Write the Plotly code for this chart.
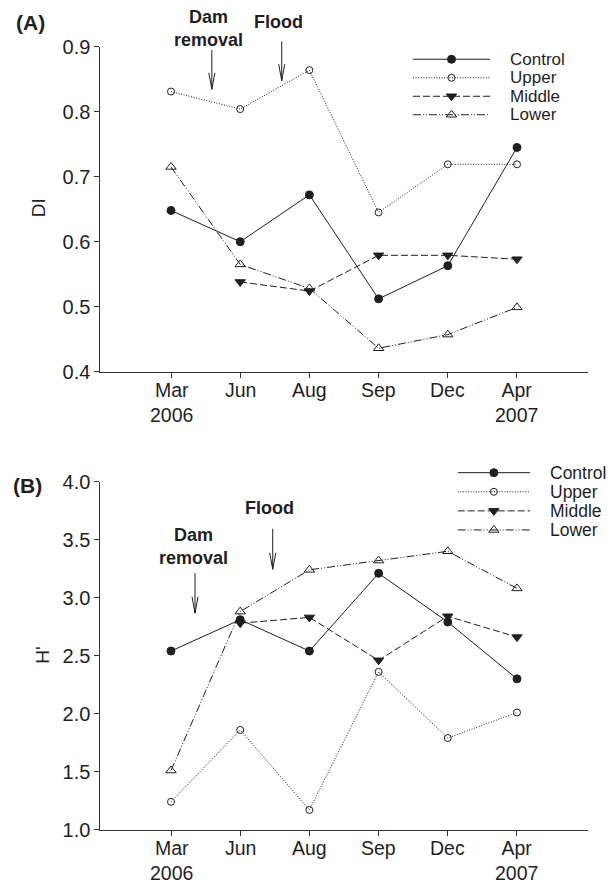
import plotly.graph_objects as go

# ---------------- data ----------------
months = ["Mar<br>2006", "Jun", "Aug", "Sep", "Dec", "Apr<br>2007"]
series = ["Control", "Upper", "Middle", "Lower"]

di_control = [0.648, 0.600, 0.672, 0.512, 0.563, 0.745]
di_upper = [0.831, 0.804, 0.864, 0.645, 0.719, 0.719]
di_middle = [None, 0.538, 0.524, 0.579, 0.579, 0.573]
di_lower = [0.715, 0.565, 0.528, 0.436, 0.457, 0.499]

h_control = [2.54, 2.81, 2.54, 3.21, 2.79, 2.30]
h_upper = [1.24, 1.86, 1.17, 2.36, 1.79, 2.01]
h_middle = [None, 2.78, 2.83, 2.46, 2.84, 2.66]
h_lower = [1.51, 2.88, 3.24, 3.32, 3.40, 3.08]

di_ticks = [0.4, 0.5, 0.6, 0.7, 0.8, 0.9]
h_ticks = [1.0, 1.5, 2.0, 2.5, 3.0, 3.5, 4.0]

# ---------------- styles ----------------
INK = "#1f1f1f"
FONT = "Liberation Sans, Arial, Helvetica, sans-serif"
W, H = 615, 883
styles = {
    "Control": dict(dash="solid", symbol="circle", size=8),
    "Upper": dict(dash="1px,1.6px", symbol="circle-open", size=7),
    "Middle": dict(dash="7px,3px", symbol="triangle-down", size=9),
    "Lower": dict(dash="8px,2px,1px,2px,1px,2px", symbol="triangle-up-open", size=9),
}

x_idx = list(range(len(months)))
fig = go.Figure()

panels = [
    ("x", "y", [di_control, di_upper, di_middle, di_lower]),
    ("x2", "y2", [h_control, h_upper, h_middle, h_lower]),
]
for xa, ya, vals in panels:
    for name, v in zip(series, vals):
        st = styles[name]
        fig.add_trace(go.Scatter(
            x=x_idx, y=v, mode="lines+markers", name=name, showlegend=False,
            xaxis=xa, yaxis=ya, cliponaxis=False, connectgaps=False,
            line=dict(color=INK, width=1, dash=st["dash"]),
            marker=dict(symbol=st["symbol"], size=st["size"], color=INK,
                        line=dict(color=INK, width=1)),
        ))

# custom legends (overlay axes)
for xa, ya in [("x3", "y3"), ("x4", "y4")]:
    for i, name in enumerate(series):
        st = styles[name]
        fig.add_trace(go.Scatter(
            x=[0, 1], y=[i, i], mode="lines", showlegend=False, xaxis=xa, yaxis=ya,
            line=dict(color=INK, width=1, dash=st["dash"]), hoverinfo="skip", cliponaxis=False))
        fig.add_trace(go.Scatter(
            x=[0.5], y=[i], mode="markers", showlegend=False, xaxis=xa, yaxis=ya,
            marker=dict(symbol=st["symbol"], size=st["size"], color=INK,
                        line=dict(color=INK, width=1)), hoverinfo="skip", cliponaxis=False))

axis_common = dict(showline=True, linecolor="#333333", linewidth=1, ticks="outside",
                   ticklen=5, tickcolor="#333333", tickwidth=1, showgrid=False,
                   zeroline=False, mirror=False, automargin=False,
                   tickfont=dict(family=FONT, size=20, color=INK))
hidden = dict(visible=False, automargin=False, fixedrange=True)

xdom = [0.1633, 0.9554]
xr = [-1.02, 6.02]
ydomA = [0.5791, 0.9471]
ydomB = [0.0604, 0.4545]
fig.update_layout(
    width=W, height=H, margin=dict(l=0, r=0, t=0, b=0, pad=0, autoexpand=False),
    paper_bgcolor="white", plot_bgcolor="white", showlegend=False,
    font=dict(family=FONT, color=INK),
    xaxis=dict(domain=xdom, range=xr, anchor="y", tickvals=x_idx, showticklabels=False, **axis_common),
    yaxis=dict(domain=ydomA, range=[0.4, 0.9], anchor="x", tickvals=di_ticks,
               tickformat=".1f", **axis_common),
    xaxis2=dict(domain=xdom, range=xr, anchor="y2", tickvals=x_idx, showticklabels=False, **axis_common),
    yaxis2=dict(domain=ydomB, range=[1.0, 4.0], anchor="x2", tickvals=h_ticks,
                tickformat=".1f", **axis_common),
    xaxis3=dict(domain=[413 / W, 567 / W], range=[0, 2], anchor="y3", **hidden),
    yaxis3=dict(domain=[1 - 124 / H, 1 - 50 / H], range=[3.5, -0.5], anchor="x3", **hidden),
    xaxis4=dict(domain=[457.7 / W, 602.3 / W], range=[0, 2], anchor="y4", **hidden),
    yaxis4=dict(domain=[0.3890, 0.4755], range=[3.5, -0.5], anchor="x4", **hidden),
)

ann = []
# x tick labels (two-line, placed through the x axes)
for xr_, ydom in [("x", ydomA), ("x2", ydomB)]:
    axis_px = (1 - ydom[0]) * H
    for i, lab in zip(x_idx, months):
        ann.append(dict(x=i, y=1 - (axis_px + 5.5) / H, xref=xr_, yref="paper", text=lab,
                        showarrow=False, xanchor="center", yanchor="top",
                        font=dict(family=FONT, size=19.5, color=INK)))

# legend labels
for xr_, yr_, lx, fs in [("x3", "y3", 1.24, 17), ("x4", "y4", 1.245, 17.5)]:
    for i, name in enumerate(series):
        ann.append(dict(x=lx, y=i, xref=xr_, yref=yr_, text=name, showarrow=False,
                        xanchor="left", yanchor="middle",
                        font=dict(family=FONT, size=fs, color=INK)))

# panel labels
ann.append(dict(x=0.0488, y=1 - 22 / H, xref="paper", yref="paper", text="<b>(A)</b>",
                showarrow=False, xanchor="center", yanchor="middle",
                font=dict(family=FONT, size=21, color=INK)))
ann.append(dict(x=0.0455, y=1 - 485 / H, xref="paper", yref="paper", text="<b>(B)</b>",
                showarrow=False, xanchor="center", yanchor="middle",
                font=dict(family=FONT, size=21, color=INK)))
# y titles
ann.append(dict(x=38.3 / W, y=1 - 208 / H, xref="paper", yref="paper", text="DI",
                textangle=-90, showarrow=False, xanchor="center", yanchor="middle",
                font=dict(family=FONT, size=19, color=INK)))
ann.append(dict(x=41.7 / W, y=1 - 655 / H, xref="paper", yref="paper", text="H'",
                textangle=-90, showarrow=False, xanchor="center", yanchor="middle",
                font=dict(family=FONT, size=19, color=INK)))

# event labels
event_font = dict(family=FONT, size=18, color=INK)
ann.append(dict(x=0.54, y=1 - 28.4 / H, xref="x", yref="paper", text="<b>Dam<br>removal</b>",
                showarrow=False, xanchor="center", yanchor="middle", font=event_font))
ann.append(dict(x=1.556, y=1 - 21.7 / H, xref="x", yref="paper", text="<b>Flood</b>",
                showarrow=False, xanchor="center", yanchor="middle", font=event_font))
ann.append(dict(x=0.33, y=3.441, xref="x2", yref="y2", text="<b>Dam<br>removal</b>",
                showarrow=False, xanchor="center", yanchor="middle", font=event_font))
ann.append(dict(x=1.42, y=3.77, xref="x2", yref="y2", text="<b>Flood</b>",
                showarrow=False, xanchor="center", yanchor="middle", font=event_font))

# arrows: (xref, yref, x, y_tail, y_head)
arrows = [
    ("x", "y", 0.59, 0.8975, 0.8345),
    ("x", "y", 1.60, 0.9103, 0.8477),
    ("x2", "y2", 0.347, 3.224, 2.866),
    ("x2", "y2", 1.47, 3.607, 3.245),
]
for xr_, yr_, xa, yt, yh in arrows:
    ann.append(dict(x=xa, y=yh, ax=xa, ay=yt, xref=xr_, yref=yr_, axref=xr_, ayref=yr_,
                    text="", showarrow=True, arrowhead=0, arrowwidth=1, arrowcolor=INK,
                    standoff=0, startstandoff=0))
    for dx in (-3.3, 3.3):
        ann.append(dict(x=xa, y=yh, ax=dx, ay=-18, xref=xr_, yref=yr_,
                        text="", showarrow=True, arrowhead=0, arrowwidth=1, arrowcolor=INK,
                        standoff=0, startstandoff=0))

fig.update_layout(annotations=ann)
fig.write_html("out.html")
